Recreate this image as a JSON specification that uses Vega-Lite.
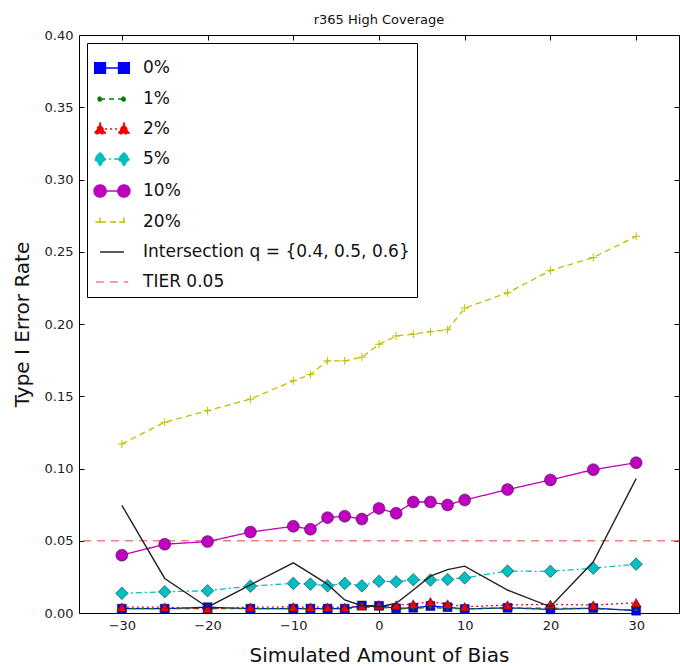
{
  "$schema": "https://vega.github.io/schema/vega-lite/v6.json",
  "width": 600,
  "height": 578,
  "autosize": "none",
  "padding": {"left": 79, "top": 35, "right": 1, "bottom": 53},
  "background": "white",
  "config": {
    "font": "DejaVu Sans",
    "view": {"stroke": "black", "strokeWidth": 1}
  },
  "title": {"text": "r365 High Coverage", "fontSize": 13, "fontWeight": "normal", "color": "#111", "offset": 2, "font": "DejaVu Sans"},
  "datasets": {
    "d": [
      {"x": -30, "s": "0%", "y": 0.003}, {"x": -25, "s": "0%", "y": 0.003}, {"x": -20, "s": "0%", "y": 0.004}, {"x": -15, "s": "0%", "y": 0.003}, {"x": -10, "s": "0%", "y": 0.003}, {"x": -8, "s": "0%", "y": 0.003}, {"x": -6, "s": "0%", "y": 0.003}, {"x": -4, "s": "0%", "y": 0.003}, {"x": -2, "s": "0%", "y": 0.0052}, {"x": 0, "s": "0%", "y": 0.005}, {"x": 2, "s": "0%", "y": 0.0032}, {"x": 4, "s": "0%", "y": 0.0036}, {"x": 6, "s": "0%", "y": 0.0048}, {"x": 8, "s": "0%", "y": 0.004}, {"x": 10, "s": "0%", "y": 0.0028}, {"x": 15, "s": "0%", "y": 0.0036}, {"x": 20, "s": "0%", "y": 0.0025}, {"x": 25, "s": "0%", "y": 0.0034}, {"x": 30, "s": "0%", "y": 0.0016},
      {"x": -30, "s": "1%", "y": 0.003}, {"x": -25, "s": "1%", "y": 0.003}, {"x": -20, "s": "1%", "y": 0.003}, {"x": -15, "s": "1%", "y": 0.003}, {"x": -10, "s": "1%", "y": 0.003}, {"x": -8, "s": "1%", "y": 0.003}, {"x": -6, "s": "1%", "y": 0.003}, {"x": -4, "s": "1%", "y": 0.003}, {"x": -2, "s": "1%", "y": 0.004}, {"x": 0, "s": "1%", "y": 0.004}, {"x": 2, "s": "1%", "y": 0.003}, {"x": 4, "s": "1%", "y": 0.003}, {"x": 6, "s": "1%", "y": 0.004}, {"x": 8, "s": "1%", "y": 0.003}, {"x": 10, "s": "1%", "y": 0.003}, {"x": 15, "s": "1%", "y": 0.0033}, {"x": 20, "s": "1%", "y": 0.0033}, {"x": 25, "s": "1%", "y": 0.003}, {"x": 30, "s": "1%", "y": 0.002},
      {"x": -30, "s": "2%", "y": 0.004}, {"x": -25, "s": "2%", "y": 0.004}, {"x": -20, "s": "2%", "y": 0.003}, {"x": -15, "s": "2%", "y": 0.004}, {"x": -10, "s": "2%", "y": 0.0042}, {"x": -8, "s": "2%", "y": 0.004}, {"x": -6, "s": "2%", "y": 0.004}, {"x": -4, "s": "2%", "y": 0.0038}, {"x": -2, "s": "2%", "y": 0.005}, {"x": 0, "s": "2%", "y": 0.0055}, {"x": 2, "s": "2%", "y": 0.0055}, {"x": 4, "s": "2%", "y": 0.0062}, {"x": 6, "s": "2%", "y": 0.0078}, {"x": 8, "s": "2%", "y": 0.0062}, {"x": 10, "s": "2%", "y": 0.0043}, {"x": 15, "s": "2%", "y": 0.0055}, {"x": 20, "s": "2%", "y": 0.006}, {"x": 25, "s": "2%", "y": 0.0055}, {"x": 30, "s": "2%", "y": 0.0071},
      {"x": -30, "s": "5%", "y": 0.0136}, {"x": -25, "s": "5%", "y": 0.0147}, {"x": -20, "s": "5%", "y": 0.0154}, {"x": -15, "s": "5%", "y": 0.0186}, {"x": -10, "s": "5%", "y": 0.0205}, {"x": -8, "s": "5%", "y": 0.02}, {"x": -6, "s": "5%", "y": 0.0188}, {"x": -4, "s": "5%", "y": 0.0205}, {"x": -2, "s": "5%", "y": 0.0188}, {"x": 0, "s": "5%", "y": 0.022}, {"x": 2, "s": "5%", "y": 0.0216}, {"x": 4, "s": "5%", "y": 0.023}, {"x": 6, "s": "5%", "y": 0.0228}, {"x": 8, "s": "5%", "y": 0.0232}, {"x": 10, "s": "5%", "y": 0.0243}, {"x": 15, "s": "5%", "y": 0.029}, {"x": 20, "s": "5%", "y": 0.0288}, {"x": 25, "s": "5%", "y": 0.031}, {"x": 30, "s": "5%", "y": 0.0338},
      {"x": -30, "s": "10%", "y": 0.04}, {"x": -25, "s": "10%", "y": 0.0476}, {"x": -20, "s": "10%", "y": 0.0494}, {"x": -15, "s": "10%", "y": 0.056}, {"x": -10, "s": "10%", "y": 0.06}, {"x": -8, "s": "10%", "y": 0.058}, {"x": -6, "s": "10%", "y": 0.066}, {"x": -4, "s": "10%", "y": 0.067}, {"x": -2, "s": "10%", "y": 0.065}, {"x": 0, "s": "10%", "y": 0.0724}, {"x": 2, "s": "10%", "y": 0.069}, {"x": 4, "s": "10%", "y": 0.0768}, {"x": 6, "s": "10%", "y": 0.0768}, {"x": 8, "s": "10%", "y": 0.0748}, {"x": 10, "s": "10%", "y": 0.0782}, {"x": 15, "s": "10%", "y": 0.0854}, {"x": 20, "s": "10%", "y": 0.0921}, {"x": 25, "s": "10%", "y": 0.0992}, {"x": 30, "s": "10%", "y": 0.104},
      {"x": -30, "s": "20%", "y": 0.117}, {"x": -25, "s": "20%", "y": 0.132}, {"x": -20, "s": "20%", "y": 0.14}, {"x": -15, "s": "20%", "y": 0.148}, {"x": -10, "s": "20%", "y": 0.1607}, {"x": -8, "s": "20%", "y": 0.165}, {"x": -6, "s": "20%", "y": 0.1745}, {"x": -4, "s": "20%", "y": 0.1745}, {"x": -2, "s": "20%", "y": 0.177}, {"x": 0, "s": "20%", "y": 0.186}, {"x": 2, "s": "20%", "y": 0.1917}, {"x": 4, "s": "20%", "y": 0.193}, {"x": 6, "s": "20%", "y": 0.1947}, {"x": 8, "s": "20%", "y": 0.196}, {"x": 10, "s": "20%", "y": 0.211}, {"x": 15, "s": "20%", "y": 0.2216}, {"x": 20, "s": "20%", "y": 0.237}, {"x": 25, "s": "20%", "y": 0.246}, {"x": 30, "s": "20%", "y": 0.2607},
      {"x": -30, "s": "Intersection q = {0.4, 0.5, 0.6}", "y": 0.0745}, {"x": -25, "s": "Intersection q = {0.4, 0.5, 0.6}", "y": 0.0239}, {"x": -20, "s": "Intersection q = {0.4, 0.5, 0.6}", "y": 0.004}, {"x": -15, "s": "Intersection q = {0.4, 0.5, 0.6}", "y": 0.0195}, {"x": -10, "s": "Intersection q = {0.4, 0.5, 0.6}", "y": 0.0347}, {"x": -8, "s": "Intersection q = {0.4, 0.5, 0.6}", "y": 0.0274}, {"x": -6, "s": "Intersection q = {0.4, 0.5, 0.6}", "y": 0.0198}, {"x": -4, "s": "Intersection q = {0.4, 0.5, 0.6}", "y": 0.009}, {"x": -2, "s": "Intersection q = {0.4, 0.5, 0.6}", "y": 0.005}, {"x": 0, "s": "Intersection q = {0.4, 0.5, 0.6}", "y": 0.0043}, {"x": 2, "s": "Intersection q = {0.4, 0.5, 0.6}", "y": 0.0067}, {"x": 4, "s": "Intersection q = {0.4, 0.5, 0.6}", "y": 0.0159}, {"x": 6, "s": "Intersection q = {0.4, 0.5, 0.6}", "y": 0.0255}, {"x": 8, "s": "Intersection q = {0.4, 0.5, 0.6}", "y": 0.03}, {"x": 10, "s": "Intersection q = {0.4, 0.5, 0.6}", "y": 0.0324}, {"x": 15, "s": "Intersection q = {0.4, 0.5, 0.6}", "y": 0.0159}, {"x": 20, "s": "Intersection q = {0.4, 0.5, 0.6}", "y": 0.0043}, {"x": 25, "s": "Intersection q = {0.4, 0.5, 0.6}", "y": 0.0354}, {"x": 30, "s": "Intersection q = {0.4, 0.5, 0.6}", "y": 0.093}
    ],
    "tier": [{"s": "TIER 0.05", "y": 0.05}]
  },
  "resolve": {"axis": {"x": "independent", "y": "independent"}},
  "layer": [
    {
      "data": {"name": "tier"},
      "mark": {"type": "rule", "strokeWidth": 1.5},
      "encoding": {
        "y": {
          "field": "y", "type": "quantitative",
          "scale": {"domain": [0, 0.4], "nice": false, "zero": false},
          "axis": {
            "orient": "left", "values": [0, 0.05, 0.1, 0.15, 0.2, 0.25, 0.3, 0.35, 0.4], "format": ".2f",
            "tickSize": -5, "tickColor": "black", "labelPadding": 11, "domain": false, "grid": false,
            "labelFontSize": 13, "labelColor": "#222", "labelFont": "DejaVu Sans",
            "title": "Type I Error Rate", "titleFontSize": 20, "titleFontWeight": "normal", "titleColor": "#111",
            "titleX": -57, "titleY": 289, "titleBaseline": "middle", "titleAlign": "center"
          }
        },
        "color": {
          "field": "s", "type": "nominal",
          "scale": {
            "domain": ["0%", "1%", "2%", "5%", "10%", "20%", "Intersection q = {0.4, 0.5, 0.6}", "TIER 0.05"],
            "range": ["#0000ff", "#007a00", "#ee0000", "#00bfbf", "#bf00bf", "#bfbf00", "#222222", "#f08080"]
          },
          "legend": {
            "orient": "top-left", "offset": 8, "padding": 7, "title": null,
            "strokeColor": "black", "fillColor": "white", "cornerRadius": 0,
            "labelFont": "DejaVu Sans", "labelFontSize": 17, "labelColor": "#111", "labelOffset": 13,
            "symbolSize": 1156, "rowPadding": 4, "labelLimit": 400,
            "encode": {
              "symbols": {
                "update": {
                  "shape": {"signal": "['M-0.7,0L0.7,0M-1.02,-0.32L-0.38,-0.32L-0.38,0.32L-1.02,0.32ZM0.38,-0.32L1.02,-0.32L1.02,0.32L0.38,0.32Z', 'M-0.7,0L0.7,0M-0.82,0A0.12,0.12,0,1,0,-0.58,0A0.12,0.12,0,1,0,-0.82,0ZM0.58,0A0.12,0.12,0,1,0,0.82,0A0.12,0.12,0,1,0,0.58,0Z', 'M-0.7,0L0.7,0M-0.7,-0.36L-0.36,0.28L-1.04,0.28ZM0.7,-0.36L1.04,0.28L0.36,0.28Z', 'M-0.7,0L0.7,0M-0.7,-0.38L-0.36,0L-0.7,0.38L-1.04,0ZM0.7,-0.38L1.04,0L0.7,0.38L0.36,0Z', 'M-0.7,0L0.7,0M-1.06,0A0.36,0.36,0,1,0,-0.34,0A0.36,0.36,0,1,0,-1.06,0ZM0.34,0A0.36,0.36,0,1,0,1.06,0A0.36,0.36,0,1,0,0.34,0Z', 'M-0.7,0L0.7,0M-0.98,0L-0.42,0M-0.7,-0.28L-0.7,0.28M0.42,0L0.98,0M0.7,-0.28L0.7,0.28', 'M-0.7,0L0.7,0', 'M-0.95,0L0.95,0'][datum.index]"},
                  "fill": {"signal": "['#0000ff', '#007a00', '#ee0000', '#00bfbf', '#bf00bf', '#bfbf00', '#222222', '#f08080'][datum.index]"},
                  "stroke": {"signal": "['#0000ff', '#007a00', '#ee0000', '#00bfbf', '#bf00bf', '#bfbf00', '#222222', '#f08080'][datum.index]"},
                  "strokeDash": {"signal": "[[1,0],[5,5],[2,3],[6,3,2,3],[1,0],[5,4],[1,0],[7,6]][datum.index]"},
                  "strokeWidth": {"value": 1.3},
                  "opacity": {"value": 1}
                }
              }
            }
          }
        },
        "strokeDash": {
          "field": "s", "type": "nominal", "legend": null,
          "scale": {
            "domain": ["0%", "1%", "2%", "5%", "10%", "20%", "Intersection q = {0.4, 0.5, 0.6}", "TIER 0.05"],
            "range": [[1, 0], [5, 4], [2, 3], [6, 3, 2, 3], [1, 0], [6, 4], [1, 0], [8, 6]]
          }
        }
      }
    },
    {
      "data": {"name": "d"},
      "transform": [{"filter": "datum.s !== 'Intersection q = {0.4, 0.5, 0.6}'"}],
      "mark": {"type": "line", "strokeWidth": 1.3},
      "encoding": {
        "x": {
          "field": "x", "type": "quantitative",
          "scale": {"domain": [-35, 35], "nice": false, "zero": false},
          "axis": {
            "orient": "bottom", "values": [-30, -20, -10, 0, 10, 20, 30], "format": "d",
            "tickSize": -5, "tickColor": "black", "labelPadding": 11, "domain": false, "grid": false,
            "labelFontSize": 13, "labelColor": "#222", "labelFont": "DejaVu Sans",
            "title": "Simulated Amount of Bias", "titleFontSize": 20, "titleFontWeight": "normal", "titleColor": "#111",
            "titleY": 42, "titleBaseline": "middle"
          }
        },
        "y": {"field": "y", "type": "quantitative", "axis": null},
        "detail": {"field": "s"},
        "color": {"field": "s", "type": "nominal"},
        "strokeDash": {"field": "s", "type": "nominal", "legend": null}
      }
    },
    {
      "data": {"name": "d"},
      "transform": [{"filter": "datum.s !== 'Intersection q = {0.4, 0.5, 0.6}'"}],
      "mark": {"type": "point", "filled": true, "opacity": 1},
      "encoding": {
        "x": {
          "field": "x", "type": "quantitative",
          "axis": {"orient": "top", "values": [-30, -20, -10, 0, 10, 20, 30], "labels": false, "tickSize": -5, "tickColor": "black", "domain": false, "grid": false, "title": null}
        },
        "y": {
          "field": "y", "type": "quantitative",
          "axis": {"orient": "right", "values": [0, 0.05, 0.1, 0.15, 0.2, 0.25, 0.3, 0.35, 0.4], "labels": false, "tickSize": -5, "tickColor": "black", "domain": false, "grid": false, "title": null}
        },
        "color": {"field": "s", "type": "nominal"},
        "shape": {
          "field": "s", "type": "nominal", "legend": null,
          "scale": {"type": "ordinal", "domain": ["0%", "1%", "2%", "5%", "10%", "20%"], "range": ["square", "circle", "triangle-up", "diamond", "circle", "M-1,0L1,0M0,-1L0,1"]}
        },
        "size": {
          "field": "s", "type": "nominal", "legend": null,
          "scale": {"type": "ordinal", "domain": ["0%", "1%", "2%", "5%", "10%", "20%"], "range": [81, 12, 100, 160, 144, 64]}
        },
        "stroke": {"condition": {"test": "datum.s === '20%'", "value": "#bfbf00"}, "value": "#1a1a3a"},
        "strokeWidth": {"condition": {"test": "datum.s === '20%'", "value": 1}, "value": 0.5}
      }
    },
    {
      "data": {"name": "d"},
      "transform": [{"filter": "datum.s === 'Intersection q = {0.4, 0.5, 0.6}'"}],
      "mark": {"type": "line", "strokeWidth": 1.4},
      "encoding": {
        "x": {"field": "x", "type": "quantitative", "axis": null},
        "y": {"field": "y", "type": "quantitative", "axis": null},
        "color": {"field": "s", "type": "nominal"}
      }
    }
  ]
}
